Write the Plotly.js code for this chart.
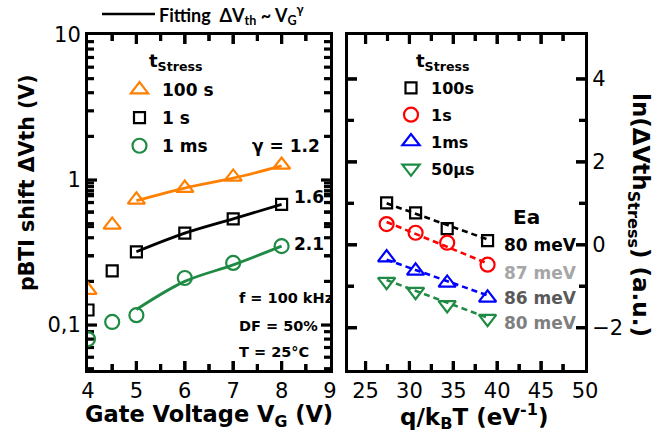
<!DOCTYPE html>
<html>
<head>
<meta charset="utf-8">
<script src="https://cdn.plot.ly/plotly-3.0.1.min.js"></script>
<style>html,body{margin:0;padding:0;background:#fff}#chart{width:654px;height:442px}</style>
</head>
<body>
<div id="chart"></div>
<script>
// ---- Left panel data: pBTI shift vs gate voltage ----
const gateVoltage = [4, 4.5, 5, 6, 7, 8];
const dvth100s = [0.174, 0.49, 0.73, 0.88, 1.05, 1.27];
const dvth1s = [0.127, 0.236, 0.32, 0.43, 0.54, 0.68];
const dvth1ms = [0.080, 0.105, 0.117, 0.211, 0.268, 0.35];
// fitting lines
const fitVoltage = [5, 6, 7, 8];
const fit100s = [0.72, 0.88, 1.03, 1.25];
const fit1s = [0.32, 0.43, 0.54, 0.68];
const fit1ms = [0.128, 0.20, 0.26, 0.35];
const gammaLabels = ['γ = 1.2', '1.6', '2.1'];
const leftTickVals = [0.1, 1, 10];
const leftTickText = ['0,1', '1', '10'];

// ---- Right panel data: ln(dVth) vs q/kT ----
const invKT = [27.4, 30.7, 34.3, 38.9];
const ln100s = [1.01, 0.77, 0.39, 0.10];
const ln1s = [0.50, 0.29, 0.05, -0.48];
const ln1ms = [-0.31, -0.63, -0.92, -1.28];
const ln50us = [-0.89, -1.13, -1.45, -1.78];
const fitKT = [27.4, 38.9];
const lnFit100s = [1.00, 0.13];
const lnFit1s = [0.55, -0.45];
const lnFit1ms = [-0.36, -1.22];
const lnFit50us = [-0.85, -1.76];
const eaLabels = ['80 meV', '87 meV', '86 meV', '80 meV'];
const eaColors = ['#000000', '#A6A6A6', '#595959', '#7F7F7F'];

// ---- inward tick marks (axis ticks) ----
const leftXMajor = [5, 6, 7, 8];
const leftXMinor = [4.5, 5.5, 6.5, 7.5, 8.5];
const leftYMajor = [0.1, 1];
const leftYMinor = [0.05, 0.06, 0.07, 0.08, 0.09, 0.2, 0.3, 0.4, 0.5, 0.6, 0.7, 0.8, 0.9, 2, 3, 4, 5, 6, 7, 8, 9];
const rightXMajor = [25, 30, 35, 40, 45];
const rightXMinor = [27.5, 32.5, 37.5, 42.5, 47.5];
const rightYMajor = [-2, 0, 2, 4];
const rightYMinor = [-1, 1, 3];

const W = 654, H = 442, MT = 35, MB = 72;
const px = x => x / W;
const py = y => (H - MB - y) / (H - MT - MB);
const BOX1 = {l: 88, r: 330}, BOX2 = {l: 348, r: 585}, TOP = 35, BOT = 370;
const X1R = [4, 9], Y1R = [-1.31, 1], X2R = [23, 50], Y2R = [-3.02, 5.06];

const ORANGE = '#FF8000', GREEN = '#1F8A43', RED = '#FF0000', BLUE = '#0000FF';
const FONT = 'DejaVu Sans, Liberation Sans, sans-serif';

function mk(x, y, name, color, symbol, size, legend, xa, ya) {
  return {x, y, name: '<b>' + name + '</b>', type: 'scatter', mode: 'markers', legend,
    legendgroup: legend + name, xaxis: xa, yaxis: ya,
    marker: {symbol, size, color, line: {color, width: 2.2}}};
}
function ln(x, y, color, dash, xa, ya) {
  return {x, y, type: 'scatter', mode: 'lines', showlegend: false, xaxis: xa, yaxis: ya,
    line: {color, width: dash ? 2.6 : 2.8, dash: dash || 'solid', shape: dash ? 'linear' : 'spline'}};
}

// inward tick marks built as line segments (decoration), lengths given in pixels
function tickTrace(xVals, yVals, xr, yr, wPx, hPx, isLogY, len, xa, ya) {
  const X = [], Y = [];
  const dx = len / wPx * (xr[1] - xr[0]);
  const dy = len / hPx * (yr[1] - yr[0]);
  const toY = v => isLogY ? Math.pow(10, v) : v;
  xVals.forEach(v => {
    X.push(v, v, null, v, v, null);
    Y.push(toY(yr[0]), toY(yr[0] + dy), null, toY(yr[1]), toY(yr[1] - dy), null);
  });
  yVals.forEach(v => {
    X.push(xr[0], xr[0] + dx, null, xr[1], xr[1] - dx, null);
    Y.push(v, v, null, v, v, null);
  });
  return {x: X, y: Y, type: 'scatter', mode: 'lines', showlegend: false, hoverinfo: 'skip',
    xaxis: xa, yaxis: ya, connectgaps: false, line: {color: '#000', width: 3.2, simplify: false}};
}
const h = BOT - TOP;
const traces = [
  tickTrace(leftXMajor, leftYMajor, X1R, Y1R, BOX1.r - BOX1.l, h, true, 9, 'x', 'y'),
  tickTrace(leftXMinor, leftYMinor, X1R, Y1R, BOX1.r - BOX1.l, h, true, 6, 'x', 'y'),
  tickTrace(rightXMajor, rightYMajor, X2R, Y2R, BOX2.r - BOX2.l, h, false, 9, 'x2', 'y2'),
  tickTrace(rightXMinor, rightYMinor, X2R, Y2R, BOX2.r - BOX2.l, h, false, 6, 'x2', 'y2'),
  ln(fitVoltage, fit100s, ORANGE, null, 'x', 'y'),
  ln(fitVoltage, fit1s, '#000', null, 'x', 'y'),
  ln(fitVoltage, fit1ms, GREEN, null, 'x', 'y'),
  mk(gateVoltage, dvth100s, '100 s', ORANGE, 'triangle-up-open', 15, 'legend', 'x', 'y'),
  mk(gateVoltage, dvth1s, '1 s', '#000', 'square-open', 11, 'legend', 'x', 'y'),
  mk(gateVoltage, dvth1ms, '1 ms', GREEN, 'circle-open', 14, 'legend', 'x', 'y'),
  ln(fitKT, lnFit100s, '#000', '6px,4px', 'x2', 'y2'),
  ln(fitKT, lnFit1s, RED, '6px,4px', 'x2', 'y2'),
  ln(fitKT, lnFit1ms, BLUE, '6px,4px', 'x2', 'y2'),
  ln(fitKT, lnFit50us, GREEN, '6px,4px', 'x2', 'y2'),
  mk(invKT, ln100s, '100s', '#000', 'square-open', 11, 'legend2', 'x2', 'y2'),
  mk(invKT, ln1s, '1s', RED, 'circle-open', 14, 'legend2', 'x2', 'y2'),
  mk(invKT, ln1ms, '1ms', BLUE, 'triangle-up-open', 15, 'legend2', 'x2', 'y2'),
  mk(invKT, ln50us, '50µs', GREEN, 'triangle-down-open', 15, 'legend2', 'x2', 'y2')
];

// same tick marks also as layout shapes (paper-positioned edges)
const shapes = [];
function xTickShapes(vals, xref, len) {
  vals.forEach(v => {
    shapes.push({type: 'line', xref, yref: 'paper', x0: v, x1: v, y0: py(BOT), y1: py(BOT - len), line: {color: '#000', width: 3}});
    shapes.push({type: 'line', xref, yref: 'paper', x0: v, x1: v, y0: py(TOP), y1: py(TOP + len), line: {color: '#000', width: 3}});
  });
}
function yTickShapes(vals, yref, box, len, isLog) {
  vals.forEach(v => {
    const y = isLog ? Math.log10(v) : v;
    shapes.push({type: 'line', xref: 'paper', yref, x0: px(box.l), x1: px(box.l + len), y0: y, y1: y, line: {color: '#000', width: 3}});
    shapes.push({type: 'line', xref: 'paper', yref, x0: px(box.r), x1: px(box.r - len), y0: y, y1: y, line: {color: '#000', width: 3}});
  });
}
xTickShapes(leftXMajor, 'x', 9); xTickShapes(leftXMinor, 'x', 6);
yTickShapes(leftYMajor, 'y', BOX1, 9, true); yTickShapes(leftYMinor, 'y', BOX1, 6, true);
xTickShapes(rightXMajor, 'x2', 9); xTickShapes(rightXMinor, 'x2', 6);
yTickShapes(rightYMajor, 'y2', BOX2, 9, false); yTickShapes(rightYMinor, 'y2', BOX2, 6, false);
shapes.push({type: 'line', xref: 'paper', yref: 'paper', x0: px(102), x1: px(155), y0: py(14), y1: py(14),
  line: {color: '#000', width: 2.5}});

const axBase = {showline: true, linecolor: '#000', linewidth: 3, ticks: '', mirror: true,
  showgrid: false, zeroline: false, tickfont: {family: FONT, size: 21, color: '#000'}};

const ann = [];
function addText(text, x, y, opts) {
  ann.push(Object.assign({text, x: px(x), y: py(y), xref: 'paper', yref: 'paper', showarrow: false,
    xanchor: 'left', yanchor: 'middle', font: {family: FONT, size: 17, color: '#000'}}, opts || {}));
}
const f = (size, color) => ({family: FONT, size, color: color || '#000'});
addText('<b>' + gammaLabels[0] + '</b>', 322, 146, {xanchor: 'right'});
addText('<b>' + gammaLabels[1] + '</b>', 292, 197);
addText('<b>' + gammaLabels[2] + '</b>', 292, 244);
addText('<b>f = 100 kHz</b>', 237, 298, {font: f(14.5)});
addText('<b>DF = 50%</b>', 237, 326, {font: f(14.5)});
addText('<b>T = 25°C</b>', 237, 352, {font: f(14.5)});
addText('<b>t<sub>Stress</sub></b>', 147, 62, {font: f(18)});
addText('<b>t<sub>Stress</sub></b>', 414, 62, {font: f(18)});
addText('<b>Ea</b>', 511, 217, {font: f(20)});
const eaY = [245, 273, 298, 323];
eaLabels.forEach((t, i) => addText('<b>' + t + '</b>', 579, eaY[i], {xanchor: 'right', font: f(17, eaColors[i])}));
addText('<b>pBTI shift ΔVth (V)</b>', 27, 183, {xanchor: 'center', textangle: -90, font: f(20.5)});
addText('<b>ln(ΔVth<sub>Stress</sub>) (a.u.)</b>', 639, 215, {xanchor: 'center', textangle: 90, font: f(23)});
addText('<b>Gate Voltage V<sub>G</sub> (V)</b>', 209, 416, {xanchor: 'center', font: f(22.5)});
addText('<b>q/k<sub>B</sub>T (eV<sup>-1</sup>)</b>', 474, 416, {xanchor: 'center', font: f(23)});
addText('<b>Fitting  ΔV<sub>th</sub> ~ V<sub>G</sub><sup>γ</sup></b>', 157, 15, {font: {family: 'Lato, Open Sans, sans-serif', size: 18, color: '#000'}});

const layout = {
  width: W, height: H, margin: {l: 0, r: 0, t: MT, b: MB, pad: 0},
  paper_bgcolor: '#fff', plot_bgcolor: '#fff', showlegend: true,
  xaxis: Object.assign({}, axBase, {domain: [px(BOX1.l), px(BOX1.r)], range: X1R, dtick: 1, tick0: 4, anchor: 'y'}),
  yaxis: Object.assign({}, axBase, {type: 'log', range: Y1R, anchor: 'x',
    tickmode: 'array', tickvals: leftTickVals, ticktext: leftTickText}),
  xaxis2: Object.assign({}, axBase, {domain: [px(BOX2.l), px(BOX2.r)], range: X2R, dtick: 5, tick0: 25, anchor: 'y2'}),
  yaxis2: Object.assign({}, axBase, {range: Y2R, dtick: 2, tick0: 0, anchor: 'x2', side: 'right'}),
  legend: {x: px(117), y: py(72), xanchor: 'left', yanchor: 'top', bgcolor: 'rgba(0,0,0,0)', borderwidth: 0,
    itemwidth: 35, font: f(17), tracegroupgap: 3},
  legend2: {x: px(391), y: py(71), xanchor: 'left', yanchor: 'top', bgcolor: 'rgba(0,0,0,0)', borderwidth: 0,
    font: f(16), tracegroupgap: 3},
  shapes,
  annotations: ann
};

Plotly.newPlot('chart', traces, layout, {displayModeBar: false});
</script>
</body>
</html>
